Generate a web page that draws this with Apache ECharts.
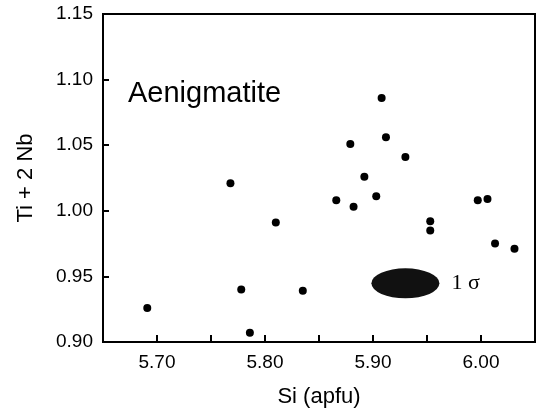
<!DOCTYPE html>
<html>
<head>
<meta charset="utf-8">
<script src="https://cdn.jsdelivr.net/npm/echarts@6/dist/echarts.min.js"></script>
<style>
  html, body { margin: 0; padding: 0; background: #fff; }
  #chart { width: 542px; height: 408px; }
</style>
</head>
<body>
<div id="chart"></div>
<script>
// Si (apfu) vs Ti + 2 Nb, aenigmatite analyses
var siValues   = [5.691, 5.768, 5.778, 5.786, 5.810, 5.835, 5.866, 5.879, 5.882, 5.892,
                  5.903, 5.908, 5.912, 5.930, 5.953, 5.953, 5.997, 6.006, 6.013, 6.031];
var tiNbValues = [0.926, 1.021, 0.940, 0.907, 0.991, 0.939, 1.008, 1.051, 1.003, 1.026,
                  1.011, 1.086, 1.056, 1.041, 0.992, 0.985, 1.008, 1.009, 0.975, 0.971];
var sigmaCenter = [5.930, 0.9447];
var sigmaLabel = '1 σ';
var panelLabel = 'Aenigmatite';

var font = '"Liberation Sans", Arial, Helvetica, sans-serif';

var points = siValues.map(function (s, i) { return [s, tiNbValues[i]]; });

var chart = echarts.init(document.getElementById('chart'));
chart.setOption({
    animation: false,
    backgroundColor: '#fff',
    grid: { left: 103, right: 7, top: 14, bottom: 66, containLabel: false, outerBoundsMode: 'none' },
    xAxis: {
        type: 'value',
        min: 5.65,
        max: 6.05,
        interval: 0.05,
        name: 'Si (apfu)',
        nameLocation: 'middle',
        nameGap: 44,
        nameTextStyle: { fontFamily: font, fontSize: 22, color: '#000' },
        axisLine: { show: true, onZero: false, lineStyle: { color: '#000', width: 2 } },
        axisTick: { show: true, inside: true, length: 7, lineStyle: { color: '#000', width: 2 } },
        axisLabel: {
            fontFamily: font, fontSize: 19, color: '#000', margin: 11,
            formatter: function (v) {
                return Math.round(v * 100) % 10 === 0 ? v.toFixed(2) : '';
            }
        },
        splitLine: { show: false }
    },
    yAxis: {
        type: 'value',
        min: 0.90,
        max: 1.15,
        interval: 0.05,
        name: 'Ti + 2 Nb',
        nameLocation: 'middle',
        nameGap: 66,
        nameRotate: 90,
        nameTextStyle: { fontFamily: font, fontSize: 22, color: '#000' },
        axisLine: { show: true, onZero: false, lineStyle: { color: '#000', width: 2 } },
        axisTick: { show: true, inside: true, length: 6, lineStyle: { color: '#000', width: 2 } },
        axisLabel: {
            fontFamily: font, fontSize: 19, color: '#000', margin: 10,
            formatter: function (v) { return v.toFixed(2); }
        },
        splitLine: { show: false }
    },
    graphic: [
        // top and right sides of the frame
        { type: 'rect', silent: true,
          shape: { x: 103, y: 14, width: 432, height: 328 },
          style: { fill: 'none', stroke: '#000', lineWidth: 2 } },
        { type: 'text', left: 128, top: 79,
          style: { text: panelLabel, font: '29px ' + font, fill: '#000' } }
    ],
    series: [
        {
            type: 'scatter',
            data: points,
            symbol: 'circle',
            symbolSize: 8,
            itemStyle: { color: '#000', opacity: 1 }
        },
        {
            type: 'scatter',
            data: [sigmaCenter],
            symbol: 'circle',
            symbolSize: [68, 30],
            itemStyle: { color: '#111', opacity: 1 },
            label: {
                show: true,
                position: 'right',
                distance: 12,
                formatter: sigmaLabel,
                fontFamily: '"Liberation Serif", "Times New Roman", serif',
                fontSize: 22,
                color: '#000'
            }
        }
    ]
});
</script>
</body>
</html>
